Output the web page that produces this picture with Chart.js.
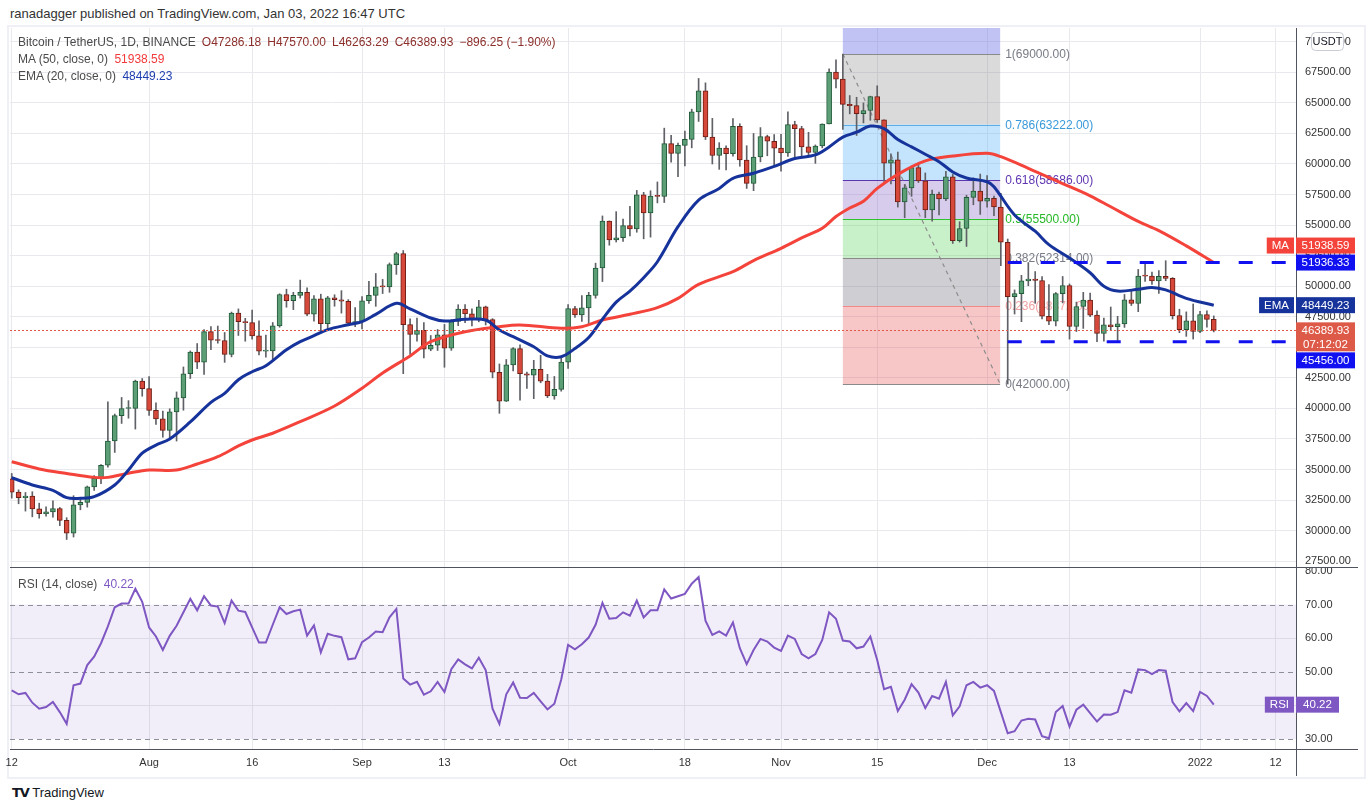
<!DOCTYPE html>
<html lang="en">
<head>
<meta charset="UTF-8">
<title>Bitcoin / TetherUS, 1D, BINANCE</title>
<script src="https://cdn.jsdelivr.net/npm/chart.js"></script>
<style>
    body {
        margin: 0;
        background: #fff;
        width: 1369px;
        height: 811px;
        overflow: hidden;
        position: relative;
        font-family: "Liberation Sans", Arial, sans-serif;
    }
    .frame {
        position: absolute;
        left: 7px;
        top: 25px;
        width: 1355px;
        height: 750px;
        border: 2px solid #eef0f5;
        background: #fff;
    }
    canvas { position: absolute; left: 0; }
    #priceChart { top: 28px; }
    #rsiChart { top: 567px; }
    .txt {
        position: absolute;
        white-space: nowrap;
        font-size: 12px;
        color: #4a4a4a;
        line-height: 16px;
    }
    .ohlc { color: #8c2f2b; margin-left: 6px; }
</style>
</head>
<body>
<div class="frame"></div>
<canvas id="priceChart" width="1360" height="539"></canvas>
<canvas id="rsiChart" width="1360" height="209"></canvas>

<div class="txt" style="left:10px;top:6px;font-size:13px;color:#333;">ranadagger published on TradingView.com, Jan 03, 2022 16:47 UTC</div>
<div class="txt" id="legendMain" style="left:18px;top:34px;"></div>
<div class="txt" style="left:18px;top:51px;">MA (50, close, 0) <span id="legendMa" style="color:#f23a3a;margin-left:3px;"></span></div>
<div class="txt" style="left:18px;top:68px;">EMA (20, close, 0) <span id="legendEma" style="color:#1f3fb0;margin-left:3px;"></span></div>
<div class="txt" style="left:18px;top:576px;">RSI (14, close) <span id="legendRsi" style="color:#7e57c2;margin-left:3px;"></span></div>
<div class="txt" style="left:12px;top:785px;font-size:13px;color:#131722;"><b style="font-family:'DejaVu Sans';font-weight:900;letter-spacing:-1px;">TV</b> TradingView</div>

<script>
// daily candles, 12 Jul 2021 .. 3 Jan 2022 (index = day)
const opens = [
    34240, 33155, 32702, 32820, 31780, 31389, 31533, 31797, 30839, 29797, 32110, 32314, 33582, 34292, 35350, 37338, 39406, 39996, 40009, 42236,
    41626, 39846, 39147, 38207, 39723, 40862, 42836, 44614, 43792, 46285, 45595, 45556, 44428, 47793, 47097, 47019, 45936, 44686, 44709, 46761, 49323, 48821, 49246, 49506, 47707, 48972, 46942, 49059, 48895, 48767, 46971,
    47100, 48811, 49247, 49943, 49940, 51769, 52663, 46864, 46048, 46395, 44851, 45173, 46026, 44940, 47111, 48122, 47737, 47300, 48314, 47261, 42961, 40588, 43560, 44895, 42839, 42716, 43208, 42235, 41034, 41564,
    43790, 48165, 47657, 48233, 49245, 51493, 55339, 53797, 53963, 54963, 54691, 57485, 56006, 57367, 57348, 61672, 60875, 61528, 62010, 64262, 65993, 62210, 60693, 61300, 60852, 63078, 60329, 58413, 60575, 62253, 61859,
    61299, 60911, 63219, 62896, 61395, 60937, 61470, 63273, 67525, 66947, 64882, 64774, 64122, 64380, 65519, 63606, 60058, 60345, 56892, 58052, 59707, 58622, 56247, 57541, 57138, 58960, 53726, 54721, 57274, 57776,
    56950, 57184, 56480, 53601, 49152, 49396, 50441, 50588, 50471, 47545, 47140, 49389, 50053, 46702, 48343, 48864, 47632, 46131, 46834, 46681, 46914, 48889, 48588, 50838, 50821, 50429, 50809, 50640, 47588, 46444, 47178,
    46306, 47686, 47286.18
];
const highs = [
    34680, 33340, 33125, 33185, 32250, 31950, 32435, 31899, 31063, 32858, 32576, 33650, 34500, 35398, 40550, 39542, 40900, 40640, 42316, 42448,
    42599, 40459, 39780, 39969, 41350, 43392, 44700, 45310, 46454, 46700, 46743, 46218, 47886, 48144, 47372, 48053, 47160, 46000, 47033, 49382, 49757, 49500, 50500, 49875, 49240, 49347, 49169, 49300, 49637, 48903, 48250,
    49155, 50400, 51040, 50558, 51900, 52780, 52920, 47340, 47400, 47033, 45970, 46460, 46876, 47250, 48487, 48500, 48150, 48843, 48373, 47347, 43639, 44000, 44978, 45200, 42970, 43936, 44350, 42788, 42617, 44141,
    48495, 48359, 49228, 49500, 51886, 55750, 55338, 56100, 55489, 56545, 57839, 57680, 57812, 58532, 62933, 62350, 61720, 62695, 64486, 67000, 66639, 63733, 61747, 61490, 63711, 63293, 61497, 62499, 62980, 62359, 62405,
    62437, 64270, 63500, 63086, 62595, 61560, 63286, 67789, 68524, 69000, 65600, 65460, 65000, 65550, 66401, 63617, 60840, 60976, 58320, 59846, 60029, 59266, 57875, 57700, 59398, 59150, 55280, 57445, 58865, 59176,
    59053, 57375, 57600, 53859, 49699, 50891, 51936.33, 51200, 50797, 50125, 49485, 50797, 50189, 48700, 49500, 49436, 47995, 47392, 48300, 47537, 49328, 49576, 51375, 51810, 51156, 51280, 52088, 50704, 48119, 47900, 48548,
    47954, 47990, 47570.00
];
const lows = [
    32660, 32200, 31600, 31133, 31020, 31180, 31108, 30408, 29278, 29482, 31708, 31925, 33300, 33850, 35200, 36400, 38772, 39200, 38313, 41000,
    39422, 38690, 37642, 37508, 37332, 39853, 42450, 43261, 42779, 44800, 45340, 43770, 44217, 45971, 45500, 45660, 44376, 44203, 43955, 46646, 48280, 48085, 49034, 47600, 47134, 46333, 46394, 48363, 47800, 46853, 46700,
    46513, 48584, 48355, 49400, 49500, 50969, 42843, 44412, 45513, 44132, 44722, 44742, 43370, 44750, 46773, 47020, 46751, 47086, 46829, 42500, 39600, 40565, 43069, 40675, 41646, 40800, 42098, 40888, 40753, 41410,
    43283, 47451, 47119, 46891, 49020, 50382, 53357, 53617, 53661, 54112, 54416, 53879, 54015, 56818, 56850, 60150, 58963, 59844, 61322, 63481, 62000, 60000, 59562, 59510, 60650, 59817, 58000, 57820, 60174, 60673, 59945,
    59405, 60624, 60382, 60677, 60721, 60050, 61322, 63273, 66222, 62822, 64100, 62333, 63360, 63576, 63400, 58575, 58373, 56474, 55600, 57353, 58486, 55610, 55317, 55837, 57000, 53500, 53611, 53256, 56666, 55875,
    56458, 55777, 51680, 42000, 47727, 47100, 50039, 48600, 47320, 46852, 46751, 48633, 45672, 46290, 46547, 47511, 45456, 45500, 46406, 45558, 46630, 48421, 47920, 50384, 50142, 49412, 50450, 47313, 46201, 45900, 45678,
    46208, 46654, 46263.29
];
const closes = [
    33155, 32702, 32820, 31780, 31389, 31533, 31797, 30839, 29797, 32110, 32314, 33582, 34292, 35350, 37338, 39406, 39996, 40009, 42236, 41626,
    39846, 39147, 38207, 39723, 40862, 42836, 44614, 43792, 46285, 45595, 45556, 44428, 47793, 47097, 47019, 45936, 44686, 44709, 46761, 49323, 48821, 49246, 49506, 47707, 48972, 46942, 49059, 48895, 48767, 46971, 47100,
    48811, 49247, 49943, 49940, 51769, 52663, 46864, 46048, 46395, 44851, 45173, 46026, 44940, 47111, 48122, 47737, 47300, 48314, 47261, 42961, 40588, 43560, 44895, 42839, 42716, 43208, 42235, 41034, 41564, 43790,
    48165, 47657, 48233, 49245, 51493, 55339, 53797, 53963, 54963, 54691, 57485, 56006, 57367, 57348, 61672, 60875, 61528, 62010, 64262, 65993, 62210, 60693, 61300, 60852, 63078, 60329, 58413, 60575, 62253, 61859, 61299,
    60911, 63219, 62896, 61395, 60937, 61470, 63273, 67525, 66947, 64882, 64774, 64122, 64380, 65519, 63606, 60058, 60345, 56892, 58052, 59707, 58622, 56247, 57541, 57138, 58960, 53726, 54721, 57274, 57776, 56950,
    57184, 56480, 53601, 49152, 49396, 50441, 50588, 50471, 47545, 47140, 49389, 50053, 46702, 48343, 48864, 47632, 46131, 46834, 46681, 46914, 48889, 48588, 50838, 50821, 50429, 50809, 50640, 47588, 46444, 47178, 46306,
    47686, 47286.18, 46389.93
];

// indicator lines (day index, value)
const maDays = [0, 4, 8, 12, 14, 17, 20, 24, 27, 30, 33, 35, 38, 42, 47, 51, 54, 58, 61, 66, 71, 74, 80, 83, 86, 90, 94, 97, 100, 105, 108, 112, 115, 118, 120, 122, 124, 126, 129, 133, 137, 142, 144, 148, 153, 157, 160, 164, 167, 171, 175];
const maValues = [35640, 35050, 34680, 34360, 34360, 34700, 34960, 34960, 35450, 36050, 36930, 37420, 37970, 38920, 40200, 41650, 42900, 44300, 45460, 46280, 46690, 46830, 46560, 46690, 47235, 47700, 48250, 49010, 50150, 51190, 52100, 53100, 53950, 54740, 55700, 56400, 56950, 58000, 59150, 60250, 60650, 60880, 60600, 59650, 58400, 57400, 56500, 55300, 54550, 53300, 51938.59];
const emaDays = [0, 3, 6, 8, 10, 12, 15, 17, 19, 21, 23, 26, 29, 31, 33, 35, 37, 40, 42, 44, 46, 49, 51, 53, 56, 58, 61, 63, 66, 69, 71, 73, 76, 78, 80, 82, 84, 86, 88, 90, 92, 94, 97, 100, 103, 105, 108, 111, 114, 117, 119, 121, 123, 125, 127, 129, 131, 133, 135, 137, 139, 142, 143, 146, 149, 151, 154, 157, 159, 161, 164, 166, 168, 171, 175];
const emaValues = [34330, 33740, 33300, 32700, 32650, 32780, 33740, 34960, 36350, 37000, 37500, 38900, 40500, 41240, 42350, 43000, 43500, 44800, 45460, 45950, 46450, 46850, 47100, 47700, 48600, 48150, 47400, 47150, 47290, 47235, 46420, 45870, 45050, 44300, 44230, 44900, 45800, 47300, 48700, 49600, 50700, 52000, 54870, 57050, 58000, 58830, 59240, 59800, 60450, 60740, 61400, 62200, 62600, 63100, 62900, 62000, 61400, 60800, 60190, 59350, 58850, 58550, 58140, 55830, 54500, 53400, 52300, 51100, 50000, 49600, 49750, 49900, 49700, 49010, 48449.23];

// RSI(14) per day
const rsiValues = [
    44.5, 43.3, 43.7, 40.8, 39, 39.5, 41, 38, 34.5, 46, 46.5, 52, 54.5, 58.5, 63.5, 69.2, 70.3, 70.3, 74.7, 70.8,
    63.2, 60.5, 56.5, 60.7, 63.7, 67.7, 71.7, 68.3, 72.5, 69.7, 69.4, 64.5, 71.2, 68.2, 67.8, 63.2, 58.7, 58.7, 64, 69.2, 67.2, 68, 68.5, 60.8, 63.8, 55.8, 61.3, 60.7, 60.3, 53.7, 54,
    58.8, 60.2, 62, 61.8, 66.2, 68.7, 48, 46.2, 47, 43.2, 44.2, 47, 44, 50.8, 53.7, 52.2, 51, 54.2, 50.5, 39, 34.5, 43.3, 46.8, 42.3, 42.2, 43.7, 41.2, 38.8, 40.5, 47.7,
    58, 56.7, 58.2, 60.2, 64, 70.5, 65.8, 66, 67.7, 66.7, 71.2, 66.2, 68.3, 68.3, 74.5, 71.8, 72.5, 73.2, 76.2, 78.2, 65.2, 61, 62, 60.8, 64.7, 57, 52.3, 56.5, 59.8, 59, 57.2,
    56.2, 60.8, 59.8, 55.3, 54, 55.3, 59.5, 67.7, 65.8, 59.3, 59, 57, 57.5, 60.5, 53.5, 44.8, 45.5, 38.3, 41.7, 46.3, 43.8, 39.2, 42.8, 42, 47, 37, 39.7, 46, 47, 45.3,
    46, 44.3, 38, 31.7, 32.3, 35.5, 36, 35.8, 30.8, 30.2, 38, 39.8, 33.7, 38.7, 40.2, 37.7, 35.2, 37.3, 37.2, 38, 44.5, 43.8, 50.7, 50.5, 49.3, 50.5, 50.3, 41, 38.2, 40.7, 38.3,
    44, 42.8, 40.22
];

// time axis labels
const tickDays = [0, 20, 35, 51, 63, 81, 98, 112, 126, 142, 154, 173, 184];
const tickLabels = ['12', 'Aug', '16', 'Sep', '13', 'Oct', '18', 'Nov', '15', 'Dec', '13', '2022', '12'];
const priceTicks = [27500, 30000, 32500, 35000, 37500, 40000, 42500, 45000, 47500, 50000, 52500, 55000, 57500, 60000, 62500, 65000, 67500, 70000];
const rsiTicks = [30, 40, 50, 60, 70, 80];

// fibonacci retracement drawn from the 10 Nov high to the 4 Dec low
const fibRatios = ['1', '0.786', '0.618', '0.5', '0.382', '0.236', '0'];
const fibPrices = [69000, 63222, 58686, 55500, 52314, 48372, 42000];
const fibStartDay = 121;
const fibEndDay = 143.9;

// horizontal levels
const resistance = 51936.33;
const support = 45456.00;
const levelStartDay = 145;

const FONT = '"Liberation Sans", Arial, sans-serif';
const X_MIN = -0.25, X_MAX = 186.97;
const UP_FILL = '#5c9f77', UP_LINE = '#225a39';
const DOWN_FILL = '#d6493a', DOWN_LINE = '#6f1e15';
const GRID = '#e8e9ed';
const MA_COLOR = '#f4433a';
const EMA_COLOR = '#16339b';
const LEVEL_COLOR = '#1010f0';
const RSI_COLOR = '#7e57c2';

const fibLine = ['#8a8a8a', '#5aaee8', '#5e35b1', '#2fc42f', '#8a8a8a', '#f08a8a', '#8a8a8a'];
const fibText = ['#787b86', '#3a9ad9', '#5e35b1', '#25b825', '#787b86', '#f2a3a3', '#787b86'];
const fibTopFill = 'rgba(118,122,230,0.45)';
const fibFill = ['rgba(128,128,128,0.29)', 'rgba(100,181,246,0.38)', 'rgba(126,87,194,0.30)',
                 'rgba(76,210,76,0.30)', 'rgba(120,120,132,0.36)', 'rgba(230,80,80,0.32)'];

Chart.defaults.font.family = FONT;

const last = closes.length - 1;
const fmt = v => v.toFixed(2);
const chg = closes[last] - closes[last - 1];
document.getElementById('legendMain').innerHTML =
    'Bitcoin / TetherUS, 1D, BINANCE' +
    '<span class="ohlc">O' + fmt(opens[last]) + '</span>' +
    '<span class="ohlc">H' + fmt(highs[last]) + '</span>' +
    '<span class="ohlc">L' + fmt(lows[last]) + '</span>' +
    '<span class="ohlc">C' + fmt(closes[last]) + '</span>' +
    '<span class="ohlc">\u2212' + fmt(Math.abs(chg)) + ' (\u2212' + (Math.abs(chg) / closes[last - 1] * 100).toFixed(2) + '%)</span>';
document.getElementById('legendMa').textContent = fmt(maValues[maValues.length - 1]);
document.getElementById('legendEma').textContent = fmt(emaValues[emaValues.length - 1]);
document.getElementById('legendRsi').textContent = fmt(rsiValues[rsiValues.length - 1]);

function line(ctx, x0, y0, x1, y1) {
    ctx.beginPath();
    ctx.moveTo(x0, y0);
    ctx.lineTo(x1, y1);
    ctx.stroke();
}

function badge(ctx, x, yc, w, h, bg, text) {
    ctx.fillStyle = bg;
    ctx.fillRect(x, yc - h / 2, w, h);
    ctx.fillStyle = '#fff';
    ctx.textAlign = 'center';
    ctx.textBaseline = 'middle';
    ctx.fillText(text, x + w / 2, yc + 0.5);
}

function tag(ctx, right, yc, h, bg, text) {
    const w = ctx.measureText(text).width + 10;
    badge(ctx, right - w, yc, w, h, bg, text);
}

const fibPlugin = {
    id: 'fib',
    beforeDatasetsDraw(chart) {
        const { ctx, chartArea: a, scales: { x, y } } = chart;
        const x0 = x.getPixelForValue(fibStartDay);
        const x1 = x.getPixelForValue(fibEndDay);
        ctx.save();
        ctx.fillStyle = fibTopFill;
        ctx.fillRect(x0, a.top, x1 - x0, y.getPixelForValue(fibPrices[0]) - a.top);
        for (let k = 0; k < fibPrices.length - 1; k++) {
            const ya = y.getPixelForValue(fibPrices[k]);
            const yb = y.getPixelForValue(fibPrices[k + 1]);
            ctx.fillStyle = fibFill[k];
            ctx.fillRect(x0, ya, x1 - x0, yb - ya);
        }
        ctx.lineWidth = 1;
        ctx.font = '12px ' + FONT;
        ctx.textAlign = 'left';
        ctx.textBaseline = 'middle';
        fibPrices.forEach((p, k) => {
            const yy = Math.round(y.getPixelForValue(p)) + 0.5;
            ctx.strokeStyle = fibLine[k];
            line(ctx, x0, yy, x1, yy);
            ctx.fillStyle = fibText[k];
            ctx.fillText(fibRatios[k] + '(' + fmt(p) + ')', x1 + 5, yy);
        });
        ctx.strokeStyle = '#8c8c8c';
        ctx.lineWidth = 1.2;
        ctx.setLineDash([4, 4]);
        line(ctx, x0, y.getPixelForValue(fibPrices[0]), x1, y.getPixelForValue(fibPrices[fibPrices.length - 1]));
        ctx.restore();
    }
};

const pricePlugin = {
    id: 'priceOverlay',
    afterDatasetsDraw(chart) {
        const { ctx, chartArea: a, scales: { x, y } } = chart;
        ctx.save();
        const xs = x.getPixelForValue(levelStartDay);
        ctx.strokeStyle = LEVEL_COLOR;
        ctx.lineWidth = 3;
        ctx.setLineDash([14, 19]);
        [resistance, support].forEach(p => {
            const yy = y.getPixelForValue(p);
            line(ctx, xs, yy, a.right, yy);
        });
        ctx.strokeStyle = '#e0584a';
        ctx.lineWidth = 1;
        ctx.setLineDash([2, 2]);
        const yc = Math.round(y.getPixelForValue(closes[last])) + 0.5;
        line(ctx, a.left, yc, a.right, yc);
        ctx.restore();
    },
    afterDraw(chart) {
        const { ctx, chartArea: a, scales: { y } } = chart;
        const H = 16, W = 59, R = a.right;
        const maLast = maValues[maValues.length - 1];
        const emaLast = emaValues[emaValues.length - 1];
        ctx.save();
        ctx.font = '11.5px ' + FONT;
        const yRes = y.getPixelForValue(resistance);
        const yMa = Math.min(y.getPixelForValue(maLast), yRes - H - 1);
        const yEma = y.getPixelForValue(emaLast);
        const yCur = y.getPixelForValue(closes[last]);
        const curTop = yCur - 8, curH = 29;
        const ySup = Math.max(y.getPixelForValue(support), curTop + curH + 1 + H / 2);

        badge(ctx, R, yMa, W, H, MA_COLOR, fmt(maLast));
        tag(ctx, R - 2, yMa, H, MA_COLOR, 'MA');
        badge(ctx, R, yRes, W, H, LEVEL_COLOR, fmt(resistance));
        badge(ctx, R, yEma, W, H, EMA_COLOR, fmt(emaLast));
        tag(ctx, R - 2, yEma, H, EMA_COLOR, 'EMA');

        ctx.fillStyle = '#de5a48';
        ctx.fillRect(R, curTop, W, curH);
        ctx.fillStyle = '#fff';
        ctx.textAlign = 'center';
        ctx.textBaseline = 'middle';
        ctx.fillText(fmt(closes[last]), R + W / 2, yCur + 0.5);
        ctx.fillText('07:12:02', R + W / 2, yCur + 14);

        badge(ctx, R, ySup, W, H, LEVEL_COLOR, fmt(support));

        // currency box at the top of the price scale
        ctx.beginPath();
        ctx.roundRect(R + 15.5, 4.5, 32, 18, 4);
        ctx.fillStyle = '#fff';
        ctx.fill();
        ctx.strokeStyle = '#c9ccd4';
        ctx.lineWidth = 1;
        ctx.stroke();
        ctx.fillStyle = '#131722';
        ctx.font = '11px ' + FONT;
        ctx.fillText('USDT', R + 31.5, 14);
        ctx.restore();
    }
};

const rsiPlugin = {
    id: 'rsiOverlay',
    beforeDatasetsDraw(chart) {
        const { ctx, chartArea: a, scales: { y } } = chart;
        ctx.save();
        const y70 = y.getPixelForValue(70), y30 = y.getPixelForValue(30);
        ctx.fillStyle = 'rgba(126,87,194,0.1)';
        ctx.fillRect(a.left, y70, a.width, y30 - y70);
        ctx.strokeStyle = '#8d9099';
        ctx.lineWidth = 1;
        ctx.setLineDash([5, 4]);
        [70, 50, 30].forEach(v => {
            const yy = Math.round(y.getPixelForValue(v)) + 0.5;
            line(ctx, a.left, yy, a.right, yy);
        });
        ctx.restore();
    },
    afterDraw(chart) {
        const { ctx, chartArea: a, scales: { y }, width, height } = chart;
        ctx.save();
        ctx.strokeStyle = '#50535e';
        ctx.lineWidth = 1;
        line(ctx, a.left, 0.5, width - 2, 0.5);
        line(ctx, a.right, a.bottom + 0.5, width - 2, a.bottom + 0.5);
        line(ctx, a.right + 0.5, a.bottom, a.right + 0.5, height);
        ctx.font = '11.5px ' + FONT;
        const v = rsiValues[rsiValues.length - 1];
        const yy = y.getPixelForValue(v);
        badge(ctx, a.right, yy, 43, 16, RSI_COLOR, fmt(v));
        tag(ctx, a.right - 2, yy, 16, RSI_COLOR, 'RSI');
        ctx.restore();
    }
};

const xScale = (showTicks, height) => ({
    type: 'linear',
    min: X_MIN,
    max: X_MAX,
    offset: false,
    afterBuildTicks: s => { s.ticks = tickDays.map(v => ({ value: v })); },
    ticks: {
        display: showTicks,
        autoSkip: false,
        maxRotation: 0,
        color: '#333',
        font: { size: 11 },
        padding: 7,
        callback: v => { const k = tickDays.indexOf(v); return k >= 0 ? tickLabels[k] : ''; }
    },
    grid: { color: GRID, drawTicks: false, offset: false },
    border: { display: showTicks, color: '#50535e' },
    afterFit: s => { s.height = height; s.paddingLeft = 0; s.paddingRight = 0; }
});

const candleColors = (up, down) => closes.map((c, i) => c >= opens[i] ? up : down);

new Chart(document.getElementById('priceChart'), {
    type: 'bar',
    data: {
        datasets: [
            {
                label: 'wicks',
                data: highs.map((h, i) => ({ x: i, y: [lows[i], h] })),
                backgroundColor: '#5f6166',
                barThickness: 1,
                grouped: false,
                order: 3
            },
            {
                label: 'bodies',
                data: closes.map((c, i) => ({ x: i, y: [opens[i], c] })),
                backgroundColor: candleColors(UP_FILL, DOWN_FILL),
                borderColor: candleColors(UP_LINE, DOWN_LINE),
                borderWidth: 1,
                borderSkipped: false,
                barThickness: 5,
                minBarLength: 1,
                grouped: false,
                order: 2
            },
            {
                type: 'line',
                label: 'MA 50',
                data: maDays.map((d, k) => ({ x: d, y: maValues[k] })),
                borderColor: MA_COLOR,
                borderWidth: 3,
                pointRadius: 0,
                tension: 0.35,
                order: 1
            },
            {
                type: 'line',
                label: 'EMA 20',
                data: emaDays.map((d, k) => ({ x: d, y: emaValues[k] })),
                borderColor: EMA_COLOR,
                borderWidth: 3,
                pointRadius: 0,
                tension: 0.35,
                order: 0
            }
        ]
    },
    options: {
        responsive: false,
        animation: false,
        layout: { padding: { left: 10, right: 0, top: 0, bottom: 0 } },
        plugins: { legend: { display: false }, tooltip: { enabled: false } },
        scales: {
            x: xScale(false, 0),
            y: {
                position: 'right',
                min: 27027,
                max: 71127,
                afterBuildTicks: s => { s.ticks = priceTicks.map(v => ({ value: v })); },
                ticks: { color: '#333', font: { size: 11 }, padding: 9, callback: v => fmt(v) },
                grid: { color: GRID, drawTicks: false },
                border: { display: true, color: '#50535e' },
                afterFit: s => { s.width = 64; s.paddingTop = 0; s.paddingBottom = 0; }
            }
        }
    },
    plugins: [fibPlugin, pricePlugin]
});

new Chart(document.getElementById('rsiChart'), {
    type: 'line',
    data: {
        datasets: [{
            label: 'RSI 14',
            data: rsiValues.map((v, i) => ({ x: i, y: v })),
            borderColor: RSI_COLOR,
            borderWidth: 2,
            pointRadius: 0,
            tension: 0
        }]
    },
    options: {
        responsive: false,
        animation: false,
        layout: { padding: { left: 10, right: 0, top: 0, bottom: 0 } },
        plugins: { legend: { display: false }, tooltip: { enabled: false } },
        scales: {
            x: xScale(true, 27),
            y: {
                position: 'right',
                min: 27.02,
                max: 81.19,
                afterBuildTicks: s => { s.ticks = rsiTicks.map(v => ({ value: v })); },
                ticks: { color: '#333', font: { size: 11 }, padding: 9, callback: v => fmt(v) },
                grid: {
                    color: c => (c.tick && (c.tick.value === 40 || c.tick.value === 60)) ? GRID : 'rgba(0,0,0,0)',
                    drawTicks: false
                },
                border: { display: true, color: '#50535e' },
                afterFit: s => { s.width = 64; s.paddingTop = 0; s.paddingBottom = 0; }
            }
        }
    },
    plugins: [rsiPlugin]
});
</script>
</body>
</html>
